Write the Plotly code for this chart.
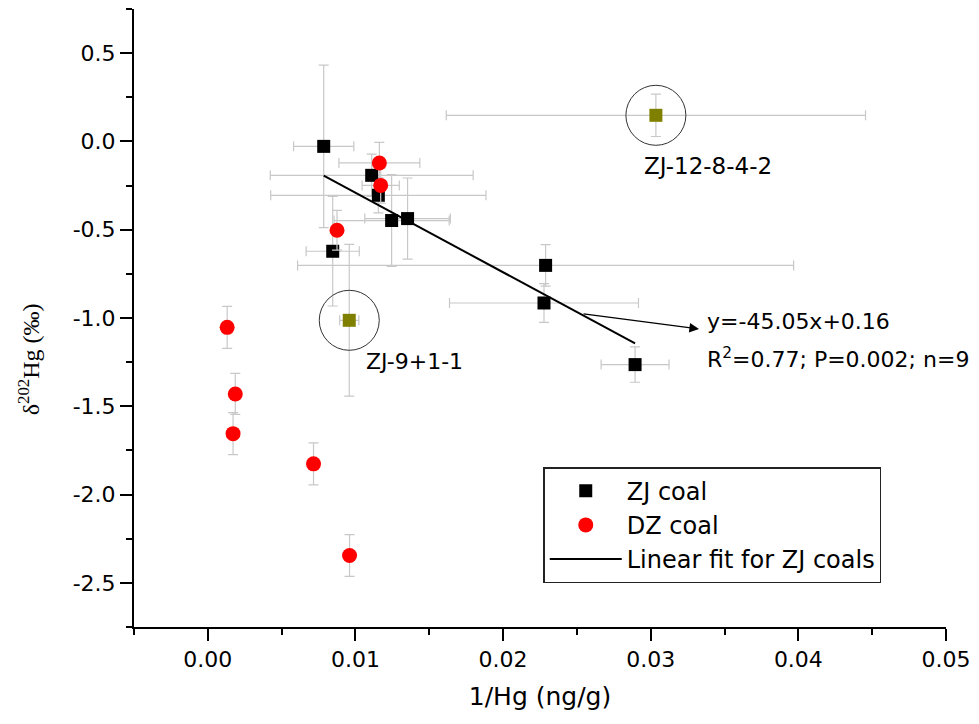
import plotly.graph_objects as go

# ---------------- data ----------------
zj_x = [0.00785, 0.0111, 0.01155, 0.01245, 0.01353, 0.00846, 0.02288, 0.02277, 0.02894]
zj_y = [-0.028, -0.192, -0.305, -0.448, -0.437, -0.622, -0.702, -0.915, -1.264]
zj_xerr = [0.00204, 0.00687, 0.00729, 0.0039, 0.0029, 0.0018, 0.0168, 0.0064, 0.0023]
zj_yerr = [0.46, 0.12, 0.10, 0.26, 0.23, 0.31, 0.118, 0.11, 0.10]

dz_x = [0.01162, 0.01171, 0.00875, 0.00131, 0.00186, 0.00171, 0.00716, 0.0096]
dz_y = [-0.122, -0.249, -0.503, -1.053, -1.43, -1.655, -1.826, -2.345]
dz_xerr = [0.00274, 0.00126, 0.0, 0.0, 0.0, 0.0, 0.0, 0.0]
dz_yerr = [0.117, 0.10, 0.113, 0.119, 0.116, 0.119, 0.119, 0.118]

out_x = [0.03035, 0.00958]
out_y = [0.148, -1.013]
out_xerr = [0.0142, 0.00065]
out_yerr = [0.12, 0.43]
out_labels = ["ZJ-12-8-4-2", "ZJ-9+1-1"]

fit_slope = -45.05
fit_intercept = 0.16
fit_eq = "y=-45.05x+0.16"
fit_stats = "R<sup>2</sup>=0.77; P=0.002; n=9"

x_tickvals = [0.00, 0.01, 0.02, 0.03, 0.04, 0.05]
x_ticktext = ["0.00", "0.01", "0.02", "0.03", "0.04", "0.05"]
y_tickvals = [0.5, 0.0, -0.5, -1.0, -1.5, -2.0, -2.5]
y_ticktext = ["0.5", "0.0", "-0.5", "-1.0", "-1.5", "-2.0", "-2.5"]

# ---------------- figure ----------------
SANS = "DejaVu Sans, Arial"
ERR = "#c8c8c8"
fig = go.Figure()

fig.add_trace(go.Scatter(
    x=zj_x, y=zj_y, mode="markers", name="ZJ coal",
    marker=dict(symbol="square", size=13, color="black", line=dict(width=0)),
    error_x=dict(type="data", array=zj_xerr, color=ERR, thickness=1.2, width=5),
    error_y=dict(type="data", array=zj_yerr, color=ERR, thickness=1.2, width=5),
))
fig.add_trace(go.Scatter(
    x=dz_x, y=dz_y, mode="markers", name="DZ coal",
    marker=dict(symbol="circle", size=15, color="#ff0000", line=dict(width=0)),
    error_x=dict(type="data", array=dz_xerr, color=ERR, thickness=1.2, width=5),
    error_y=dict(type="data", array=dz_yerr, color=ERR, thickness=1.2, width=5),
))
fx = [min(zj_x), max(zj_x)]
fy = [fit_slope * v + fit_intercept for v in fx]
fig.add_trace(go.Scatter(
    x=fx, y=fy, mode="lines", name="Linear fit for ZJ coals",
    line=dict(color="black", width=2),
))
fig.add_trace(go.Scatter(
    x=out_x, y=out_y, mode="markers", showlegend=False,
    marker=dict(symbol="square", size=13, color="#808000", line=dict(width=0)),
    error_x=dict(type="data", array=out_xerr, color=ERR, thickness=1.2, width=5),
    error_y=dict(type="data", array=out_yerr, color=ERR, thickness=1.2, width=5),
))

# circles around outliers
for xv, yv in zip(out_x, out_y):
    fig.add_shape(type="circle", xref="x", yref="y",
                  xsizemode="pixel", ysizemode="pixel",
                  xanchor=xv, yanchor=yv, x0=-30, x1=30, y0=-30, y1=30,
                  line=dict(color="#333333", width=1))

ann_font = dict(family=SANS, size=22, color="black")
fig.add_annotation(x=0.0339, y=-0.141, text=out_labels[0], showarrow=False,
                   xanchor="center", yanchor="middle", font=dict(ann_font, size=23))
fig.add_annotation(x=0.01055, y=-1.245, text=out_labels[1], showarrow=False,
                   xanchor="left", yanchor="middle", font=ann_font)
fig.add_annotation(x=0.03365, y=-1.019, text=fit_eq, showarrow=False,
                   xanchor="left", yanchor="middle", font=ann_font)
fig.add_annotation(x=0.03365, y=-1.224, text=fit_stats, showarrow=False,
                   xanchor="left", yanchor="middle", font=ann_font)
# arrow
fig.add_annotation(x=0.03327, y=-1.062, ax=0.02535, ay=-0.975,
                   xref="x", yref="y", axref="x", ayref="y", text="",
                   showarrow=True, arrowhead=2, arrowsize=1.6, arrowwidth=1.2,
                   arrowcolor="black", standoff=0)

# y-axis title (serif)
fig.add_annotation(xref="paper", yref="paper", x=-0.13, y=0.434,
                   text="δ<sup>202</sup>Hg (‰)", textangle=-90, showarrow=False,
                   xanchor="center", yanchor="middle",
                   font=dict(family="Liberation Serif, Times New Roman", size=24, color="black"))

tickfont = dict(family=SANS, size=22, color="black")
fig.update_xaxes(
    range=[-0.005, 0.05], tickmode="array", tickvals=x_tickvals, ticktext=x_ticktext,
    showline=True, linecolor="black", linewidth=2, ticks="outside", ticklen=12,
    tickwidth=2, tickcolor="black", showgrid=False, zeroline=False, tickfont=tickfont,
    minor=dict(ticks="outside", ticklen=6, tickwidth=2, tickcolor="black",
               tick0=0, dtick=0.005, showgrid=False),
    title=dict(text="1/Hg (ng/g)", font=dict(family=SANS, size=25, color="black"),
               standoff=16),
)
fig.update_yaxes(
    range=[-2.75, 0.75], tickmode="array", tickvals=y_tickvals, ticktext=y_ticktext,
    showline=True, linecolor="black", linewidth=2, ticks="outside", ticklen=12,
    tickwidth=2, tickcolor="black", showgrid=False, zeroline=False, tickfont=tickfont,
    minor=dict(ticks="outside", ticklen=6, tickwidth=2, tickcolor="black",
               tick0=0, dtick=0.25, showgrid=False),
)

fig.update_layout(
    width=979, height=724,
    margin=dict(l=134, r=28, t=9, b=97),
    paper_bgcolor="white", plot_bgcolor="white",
    showlegend=True,
    legend=dict(x=0.504, y=0.2587, xanchor="left", yanchor="top",
                bgcolor="white", bordercolor="#222222", borderwidth=1.5,
                font=dict(family=SANS, size=24, color="black"),
                itemwidth=72, tracegroupgap=0),
)

fig.write_html("out.html")
